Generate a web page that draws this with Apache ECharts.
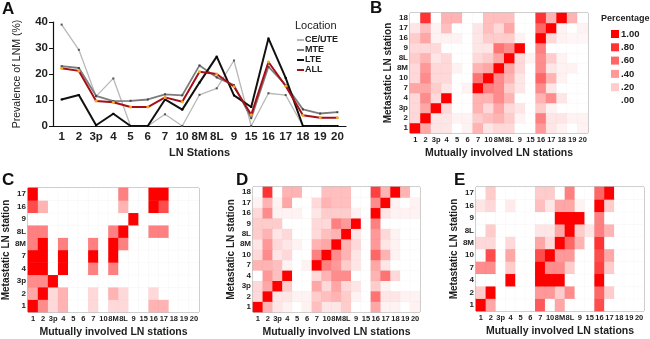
<!DOCTYPE html>
<html><head><meta charset="utf-8">
<script src="https://cdn.jsdelivr.net/npm/echarts@6/dist/echarts.min.js"></script>
<style>html,body{margin:0;padding:0;background:#fff}#c{width:650px;height:339px}</style>
</head><body><div id="c"></div>
<script>
const F = 'Liberation Sans, Arial, sans-serif';
const stations = ['1','2','3p','4','5','6','7','10','8M','8L','9','15','16','17','18','19','20'];
const ceute = [39,29.3,11.4,18.3,0,0,4.5,0,12,14.5,25.2,0,12.6,11.9,0,0,0];
const mte   = [23,22.3,11.6,9.6,9.7,10.2,12.2,11.8,23.3,18.7,15.7,3,22.8,15.7,6.4,4.8,5.3];
const lte   = [10.2,11.9,0.3,4.7,0,0,10.2,6.3,16.7,26.7,11.8,7.3,33.7,18.5,0,0,0];
const allv  = [22.2,21.2,9.6,9.1,7.3,7.3,11,9.3,20.9,20,15.1,4.3,24.6,15.4,4.1,3.2,3.2];

const rowsB = ['1','2','3p','4','7','10','8M','8L','9','16','17','18'];
const matB = [
 [1,.35,.1,.1,0,.05,.3,.1,.15,.15,0,0,.4,.1,.05,0,.05],
 [.15,1,.1,.1,.05,.05,.2,.25,.3,.2,.05,0,.5,.1,.1,.05,.05],
 [.15,.35,1,.15,0,0,.3,.15,.35,.15,.1,0,.2,.05,0,0,0],
 [.15,.45,.15,1,0,0,.3,.3,.45,.3,0,0,.3,.45,.1,0,0],
 [.35,.35,.2,.1,0,.05,1,.5,.45,.2,.1,0,.45,.1,0,0,0],
 [.15,.45,.15,.15,0,0,.55,1,.45,.3,.1,0,.6,.3,.05,0,0],
 [.15,.4,.15,.15,.05,0,.3,.35,1,.35,.15,0,.45,.1,.05,.05,0],
 [.2,.3,.1,.15,0,0,.15,.2,.35,1,.15,.05,.45,.2,.05,0,0],
 [.15,.15,.15,0,0,0,.1,.1,.55,.45,1,0,.5,0,0,0,0],
 [.2,.35,.05,.05,.05,0,.1,.2,.2,.2,.05,0,1,.15,.05,.03,.03],
 [.1,.25,.05,.25,0,0,.1,.25,.15,.35,0,0,.6,1,.05,0,.05],
 [0,.8,0,.3,.3,0,0,.25,.25,.25,0,0,.8,.3,1,.3,0]
];
const rowsC = ['1','2','3p','4','7','8M','8L','9','16','17'];
const matC = [
 [1,.45,.15,.3,0,0,.15,0,.15,.15,0,0,.3,.3,0,0,0],
 [.35,1,.15,.3,0,0,.15,0,.3,.15,0,0,.15,0,0,0,0],
 [.45,.45,1,0,0,0,0,0,0,0,0,0,0,0,0,0,0],
 [1,1,0,1,0,0,.5,0,.5,0,0,0,0,0,0,0,0],
 [1,1,0,1,0,0,1,0,1,0,0,0,0,0,0,0,0],
 [.5,1,0,.5,0,0,.5,0,1,.5,0,0,0,0,0,0,0],
 [.5,.5,0,0,0,0,0,0,.5,1,0,0,.5,.5,0,0,0],
 [0,0,0,0,0,0,0,0,0,0,1,0,0,0,0,0,0],
 [.7,.3,0,0,0,0,0,0,0,.3,0,0,1,.7,0,0,0],
 [1,0,0,0,0,0,0,0,0,.5,0,0,1,1,0,0,0]
];
const rowsD = ['1','2','3p','4','7','10','8M','8L','9','16','17','18'];
const matD = [
 [1,.3,.1,.05,0,.05,.25,.1,.1,.2,0,0,.35,.05,.05,0,.05],
 [.15,1,.1,.1,.05,.05,.2,.25,.3,.2,.05,0,.55,.1,.1,.05,.05],
 [.15,.35,1,.2,0,0,.35,.15,.35,.15,.1,0,.2,.05,0,0,0],
 [0,.4,.25,1,0,0,.15,.3,.45,.45,0,0,.3,.55,.15,0,0],
 [.3,.3,.25,.05,0,.05,1,.5,.4,.2,.1,0,.35,.1,0,0,0],
 [.15,.45,.1,.15,0,0,.5,1,.45,.3,.1,0,.6,.3,.05,0,0],
 [.1,.4,.15,.1,.05,0,.3,.35,1,.3,.15,0,.4,.1,.05,0,0],
 [.2,.3,.1,.15,0,0,.15,.25,.3,1,.1,0,.4,.15,.05,0,0],
 [.2,.2,.2,0,0,0,.15,.15,.5,.4,1,0,.5,0,0,0,0],
 [.15,.45,.05,.05,.05,0,.1,.2,.2,.2,.05,0,1,.1,.05,.05,.05],
 [.05,.3,.05,.35,0,0,.15,.3,.25,.25,0,0,.45,1,.05,0,.05],
 [0,.8,0,.3,.3,0,0,.25,.25,.25,0,0,.75,.3,1,.3,0]
];
const rowsE = ['1','2','4','7','10','8M','8L','9','16','17'];
const matE = [
 [1,.35,0,0,0,0,.65,0,.35,0,0,0,.7,0,0,0,0],
 [.2,1,0,0,0,0,.4,.4,.2,.45,0,0,.6,.2,0,0,0],
 [0,0,0,1,0,0,1,1,1,0,0,0,1,0,0,0,0],
 [.45,.45,0,.2,0,0,1,.45,.45,.2,0,0,.75,.2,0,0,0],
 [0,.7,0,.35,0,0,.7,1,.4,.4,0,0,.7,.35,0,0,0],
 [.15,.15,0,.15,0,0,.35,.15,1,.6,.3,0,.8,0,0,0,0],
 [0,.2,0,0,0,0,.1,.1,.35,1,.2,.1,.5,.3,0,0,0],
 [0,0,0,0,0,0,0,0,1,1,1,0,.5,0,0,0,0],
 [.1,.15,0,.08,0,0,.25,.1,.35,.35,.05,0,1,.2,0,0,0],
 [0,.2,0,0,0,0,.2,.2,0,.5,0,0,.6,1,0,0,0]
];
const legendVals = [0,.2,.4,.6,.8,1];
const legendLabels = ['.00','.20','.40','.60','.80','1.00'];
const legendColors = ['#ffffff','#ffcccc','#ff9999','#ff6666','#ff3333','#ff0000'];
const lineNames = ['CE/UTE','MTE','LTE','ALL'];
const lineColors = ['#b8b8b8','#7d7d7d','#111111','#a50f15'];

function toCells(mat){const o=[];mat.forEach((r,y)=>r.forEach((v,x)=>o.push([x,y,v])));return o;}

const grids = [
 {left:53, top:22, width:293, height:104},
 {left:410, top:13, width:178, height:120, show:true, borderColor:'#888', borderWidth:1},
 {left:27, top:188, width:172, height:126, show:true, borderColor:'#888', borderWidth:1},
 {left:253, top:187, width:167, height:128, show:true, borderColor:'#888', borderWidth:1},
 {left:476, top:187, width:168, height:124, show:true, borderColor:'#888', borderWidth:1}
];
function hx(g){return {type:'category', gridIndex:g, data:stations,
  axisLine:{show:false}, axisTick:{show:false}, splitLine:{show:false},
  axisLabel:{interval:0, fontSize:7.5, fontWeight:'bold', color:'#222', margin:3, fontFamily:F},
  name:'Mutually involved LN stations', nameLocation:'middle', nameGap:15,
  nameTextStyle:{fontSize:10.5, fontWeight:'bold', color:'#222', fontFamily:F}};}
function hy(g,rows){return {type:'category', gridIndex:g, data:rows,
  axisLine:{show:false}, axisTick:{show:false}, splitLine:{show:false},
  axisLabel:{interval:0, fontSize:8, fontWeight:'bold', color:'#222', margin:2, fontFamily:F},
  name:'Metastatic LN station', nameLocation:'middle', nameGap:16, nameRotate:90,
  nameTextStyle:{fontSize:10, fontWeight:'bold', color:'#222', fontFamily:F}};}
function heat(g,mat){return {type:'heatmap', xAxisIndex:g, yAxisIndex:g, data:toCells(mat),
  itemStyle:{borderColor:'rgba(0,0,0,0.04)', borderWidth:0.5}, emphasis:{disabled:true}};}
function line(name,data,color,w,sym,symColor,ss){return {type:'line', name, data, xAxisIndex:0, yAxisIndex:0,
  lineStyle:{color, width:w}, itemStyle:{color:symColor}, symbol:sym, symbolSize:ss, showSymbol:true};}

const chart = echarts.init(document.getElementById('c'));
chart.setOption({
  animation:false,
  textStyle:{fontFamily:F},
  grid:grids,
  xAxis:[
    {type:'category', gridIndex:0, data:stations, boundaryGap:true,
     axisLine:{lineStyle:{color:'#111', width:1.2}},
     axisTick:{alignWithLabel:true, length:4, lineStyle:{color:'#111'}},
     axisLabel:{interval:0, fontSize:11.5, fontWeight:'bold', color:'#222', margin:5, fontFamily:F},
     name:'LN Stations', nameLocation:'middle', nameGap:21,
     nameTextStyle:{fontSize:11, fontWeight:'bold', color:'#222', fontFamily:F}},
    hx(1), hx(2), hx(3), hx(4)
  ],
  yAxis:[
    {type:'value', gridIndex:0, min:0, max:40, interval:10,
     axisLine:{show:true, lineStyle:{color:'#111', width:1.2}},
     axisTick:{show:true, length:4, lineStyle:{color:'#111'}},
     splitLine:{show:false},
     axisLabel:{fontSize:11.5, fontWeight:'bold', color:'#222', margin:5, fontFamily:F},
     name:'Prevalence of LNM (%)', nameLocation:'middle', nameGap:30, nameRotate:90,
     nameTextStyle:{fontSize:10.5, color:'#222', fontFamily:F}},
    hy(1,rowsB), hy(2,rowsC), hy(3,rowsD), hy(4,rowsE)
  ],
  legend:{data:lineNames.map((n,i)=>({name:n, itemStyle:{color:lineColors[i]}})),
    orient:'vertical', left:297, top:35,
    icon:'rect', itemWidth:7, itemHeight:2, itemGap:0, padding:0,
    textStyle:{fontSize:9, fontWeight:'bold', color:'#222', lineHeight:10, padding:[0,0,0,-4], fontFamily:F}},
  visualMap:[
    {type:'continuous', show:false, min:0, max:1, seriesIndex:[4,5,6,7], inRange:{color:['#ffffff','#ff0000']}},
    {type:'piecewise', show:true, seriesIndex:[8], left:611, top:29, orient:'vertical', align:'left',
     itemWidth:8, itemHeight:8, itemGap:3.3, itemSymbol:'rect', textGap:2, showLabel:true, padding:0,
     pieces: legendVals.map((v,i)=>({value:v, label:legendLabels[i], color:legendColors[i]})),
     textStyle:{fontSize:9.5, fontWeight:'bold', color:'#222', fontFamily:F}}
  ],
  graphic:[
    {type:'text', left:2, top:1, style:{text:'A', font:'bold 17px '+F, fill:'#111'}},
    {type:'text', left:370, top:0, style:{text:'B', font:'bold 17px '+F, fill:'#111'}},
    {type:'text', left:2, top:172, style:{text:'C', font:'bold 17px '+F, fill:'#111'}},
    {type:'text', left:236, top:172, style:{text:'D', font:'bold 17px '+F, fill:'#111'}},
    {type:'text', left:454, top:172, style:{text:'E', font:'bold 17px '+F, fill:'#111'}},
    {type:'text', left:295, top:20, style:{text:'Location', font:'11px '+F, fill:'#222'}},
    {type:'text', left:601, top:14, style:{text:'Percentage', font:'bold 9px '+F, fill:'#222'}}
  ],
  series:[
    line('CE/UTE', ceute, lineColors[0], 1.3, 'rect', '#555', 2),
    line('MTE', mte, lineColors[1], 1.8, 'rect', '#444', 2),
    line('LTE', lte, lineColors[2], 2, 'rect', '#000', 2),
    line('ALL', allv, lineColors[3], 2, 'circle', '#f5a623', 3),
    heat(1,matB), heat(2,matC), heat(3,matD), heat(4,matE),
    {type:'scatter', xAxisIndex:0, yAxisIndex:0, data:[], name:'pct'}
  ]
});
</script></body></html>
